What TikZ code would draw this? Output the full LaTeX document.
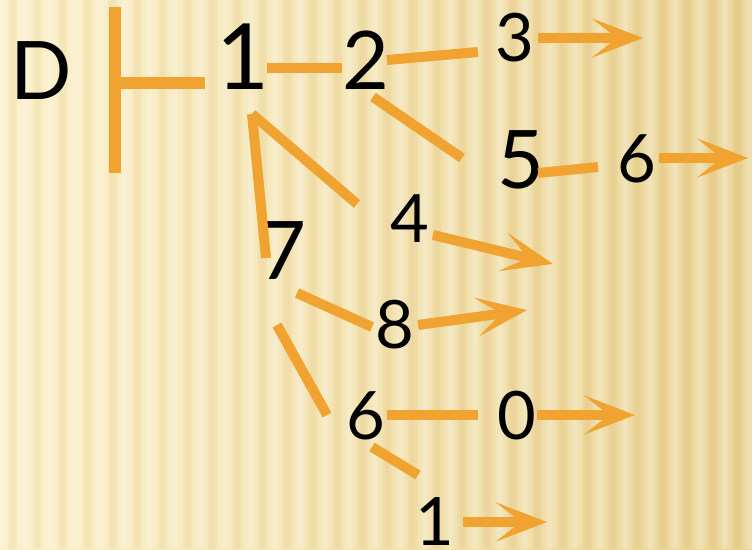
\documentclass[tikz,border=0pt]{standalone}
\usepackage{fontspec}
\setmainfont{Lato}
\usetikzlibrary{arrows.meta,calc}
\definecolor{barorange}{RGB}{240,163,48}
\definecolor{paperlight}{RGB}{252,240,200}
\definecolor{paperdark}{RGB}{233,211,146}
\tikzset{
  digit/.style={inner sep=0pt,font=\fontsize{38}{38}\selectfont},
  bigdigit/.style={inner sep=0pt,font=\fontsize{46}{46}\selectfont},
  hugedigit/.style={inner sep=0pt,font=\fontsize{52}{52}\selectfont},
  bar/.style={line width=5.7pt,draw=barorange},
  teebar/.style={line width=6.8pt,draw=barorange},
  flowarrow/.style={bar,-{Stealth[length=1.02cm,width=0.78cm,inset=0.5cm]}},
}

\begin{document}
\begin{tikzpicture}[x=0.02cm,y=-0.02cm]
    \useasboundingbox (0,0) rectangle (752,549);
    % striped paper
    \shade[left color=paperlight,right color=paperdark] (0,0) rectangle (752,549);
    \foreach \s in {0,25,...,750} {
      \fill[white,opacity=0.12] (\s-7,0) rectangle ++(14,549);
      \fill[white,opacity=0.12] (\s-4,0) rectangle ++(8,549);
      \fill[white,opacity=0.12] (\s-2,0) rectangle ++(4,549);
      \fill[brown,opacity=0.04] (\s+8,0) rectangle ++(9,549);
      \fill[brown,opacity=0.04] (\s+10,0) rectangle ++(5,549);
    }
    % labels
    \node[bigdigit] (dee) at (41,71) {D};
    \node[hugedigit] (one) at (243,57) {1};
    \node[bigdigit] (two) at (366,60) {2};
    \node[digit] (three) at (515,38) {3};
    \node[bigdigit] (five) at (521,160) {5};
    \node[digit] (sixr) at (637,159) {6};
    \node[digit] (four) at (410,219) {4};
    \node[bigdigit] (seven) at (283,251) {7};
    \node[digit] (eight) at (395,325) {8};
    \node[digit] (sixl) at (366,416) {6};
    \node[digit] (zero) at (517,416) {0};
    \node[digit] (oneb) at (435,522) {1};
    % tee and arrow ends
    \coordinate (teetop) at (115,7);
    \coordinate (teebot) at (115,173);
    \coordinate (teemid) at (115,83);
    \coordinate (tip3) at (643,38);
    \coordinate (tip6) at (748,158);
    \coordinate (tip4) at (553,264);
    \coordinate (tip8) at (527,310);
    \coordinate (tip0) at (635,415);
    \coordinate (tip1) at (547,522);
    \draw[teebar] (teetop) -- (teebot);
    \draw[teebar] (teemid) -- ($(one)+(-38,26)$);
    % tree
    \draw[bar] ($(one)+(24,11)$) -- ($(two)+(-24,8)$);
    \draw[bar] ($(two)+(21,0)$) -- ($(three)+(-37,14)$);
    \draw[bar] ($(two)+(7,37)$) -- ($(five)+(-59,-2)$);
    \draw[bar] ($(five)+(17,13)$) -- ($(sixr)+(-39,8)$);
    \draw[bar] ($(one)+(9,57)$) -- ($(four)+(-53,-15)$);
    \draw[bar] ($(one)+(9,57)$) -- ($(seven)+(-17,7)$);
    \draw[bar] ($(seven)+(14,42)$) -- ($(eight)+(-23,2)$);
    \draw[bar] ($(seven)+(-6,74)$) -- ($(sixl)+(-39,-1)$);
    \draw[bar] ($(sixl)+(21,-1)$) -- ($(zero)+(-39,-1)$);
    \draw[bar] ($(sixl)+(6,31)$) -- ($(oneb)+(-17,-47)$);
    % arrows
    \draw[flowarrow] ($(three)+(23,0)$) -- (tip3);
    \draw[flowarrow] ($(sixr)+(22,-1)$) -- (tip6);
    \draw[flowarrow] ($(four)+(23,16)$) -- (tip4);
    \draw[flowarrow] ($(eight)+(23,0)$) -- (tip8);
    \draw[flowarrow] ($(zero)+(20,-1)$) -- (tip0);
    \draw[flowarrow] ($(oneb)+(28,0)$) -- (tip1);
  \end{tikzpicture}
\end{document}
